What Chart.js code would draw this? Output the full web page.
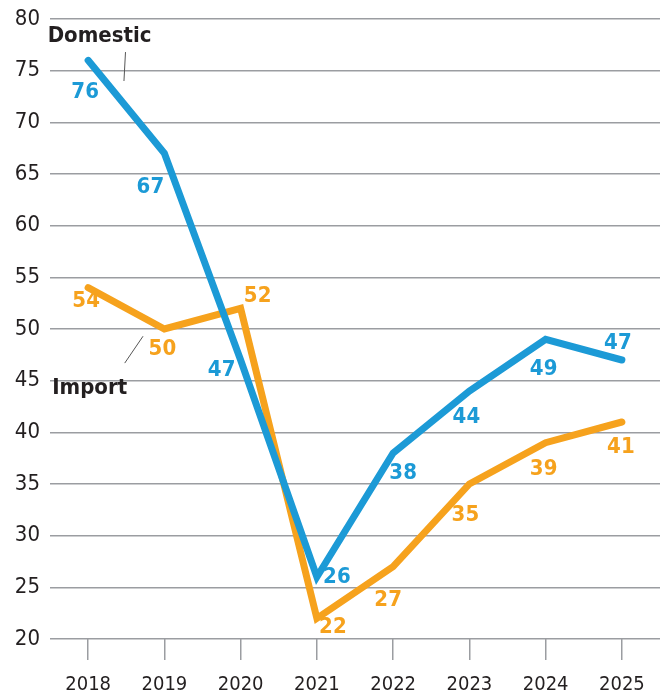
<!DOCTYPE html><html lang="en">
<head>
  <meta charset="UTF-8">
  <title>Domestic vs Import</title>
  <script src="https://cdn.jsdelivr.net/npm/chart.js"></script>
  <style>
    html, body {
      margin: 0;
      padding: 0;
      background: #fff;
    }
    #wrap {
      width: 660px;
      height: 694px;
    }
  </style>
</head>
<body>
  <div id="wrap">
    <canvas id="chart"></canvas>
  </div>
  <script>
    const years = ["2018", "2019", "2020", "2021", "2022", "2023", "2024", "2025"];
    const domestic = [76, 67, 47, 26, 38, 44, 49, 47];
    const imports = [54, 50, 52, 22, 27, 35, 39, 41];
    const yTicks = [20, 25, 30, 35, 40, 45, 50, 55, 60, 65, 70, 75, 80];

    // where each value label sits, relative to its point (px)
    const domesticLabelShift = [[-3, 32], [-14, 34], [-19, 10], [20, 0], [10, 20], [-3, 26], [-2, 30], [-4, -17]];
    const importLabelShift = [[-2, 14], [-2, 20], [17, -12], [16, 9], [-5, 34], [-4, 31], [-2, 27], [-1, 25]];

    const BLUE = "#1c9ad6";
    const ORANGE = "#f6a21d";
    const GRID = "#9b9da1";
    const FONT = "'Liberation Sans Narrow', 'DejaVu Sans Condensed', Roboto, sans-serif";

    const labelPlugin = {
      id: "valueLabels",
      afterDatasetsDraw(chart) {
        const ctx = chart.ctx;
        const shifts = [domesticLabelShift, importLabelShift];
        const colors = [BLUE, ORANGE];
        ctx.save();
        ctx.font = "bold 22px " + FONT;
        ctx.textAlign = "center";
        ctx.textBaseline = "middle";
        chart.data.datasets.forEach((ds, i) => {
          const meta = chart.getDatasetMeta(i);
          meta.data.forEach((pt, j) => {
            ctx.fillStyle = colors[i];
            ctx.fillText(String(ds.data[j]), pt.x + shifts[i][j][0], pt.y + shifts[i][j][1]);
          });
        });

        // series names with leader lines
        const xs = chart.scales.x, ys = chart.scales.y;
        ctx.fillStyle = "#231f20";
        ctx.font = "bold 22px " + FONT;
        ctx.fillText("Domestic", xs.getPixelForValue(0.15), ys.getPixelForValue(78.3));
        ctx.fillText("Import", xs.getPixelForValue(0.02), ys.getPixelForValue(44.3));
        ctx.strokeStyle = "#555";
        ctx.lineWidth = 1;
        ctx.beginPath();
        ctx.moveTo(xs.getPixelForValue(0.49), ys.getPixelForValue(76.8));
        ctx.lineTo(xs.getPixelForValue(0.47), ys.getPixelForValue(74.0));
        ctx.moveTo(xs.getPixelForValue(0.48), ys.getPixelForValue(46.7));
        ctx.lineTo(xs.getPixelForValue(0.72), ys.getPixelForValue(49.3));
        ctx.stroke();
        ctx.restore();
      }
    };

    new Chart(document.getElementById("chart"), {
      type: "line",
      data: {
        labels: years,
        datasets: [
          {
            label: "Domestic",
            data: domestic,
            borderColor: BLUE,
            borderWidth: 7,
            borderCapStyle: "round",
            borderJoinStyle: "miter",
            pointRadius: 0,
            tension: 0
          },
          {
            label: "Import",
            data: imports,
            borderColor: ORANGE,
            borderWidth: 7,
            borderCapStyle: "round",
            borderJoinStyle: "miter",
            pointRadius: 0,
            tension: 0
          }
        ]
      },
      options: {
        responsive: true,
        maintainAspectRatio: false,
        animation: false,
        layout: {
          padding: { top: 19, right: 0, left: 0, bottom: 0 }
        },
        plugins: {
          legend: { display: false },
          tooltip: { enabled: false }
        },
        scales: {
          x: {
            offset: true,
            border: { display: false },
            grid: {
              offset: false,
              drawOnChartArea: false,
              drawTicks: true,
              tickLength: 21,
              color: GRID,
              lineWidth: 1.5
            },
            ticks: {
              color: "#231f20",
              font: { family: FONT, size: 20 },
              padding: 13,
              maxRotation: 0
            },
            afterFit: (scale) => {
              scale.height = 55;
            }
          },
          y: {
            min: 20,
            max: 80,
            afterBuildTicks: (scale) => {
              scale.ticks = yTicks.map(v => ({ value: v }));
            },
            afterFit: (scale) => {
              scale.width = 50;
              scale.paddingTop = 0;
              scale.paddingBottom = 0;
            },
            border: { display: false },
            grid: {
              color: GRID,
              lineWidth: 1.5,
              drawTicks: false
            },
            ticks: {
              color: "#231f20",
              font: { family: FONT, size: 22, lineHeight: 0.8 },
              padding: 10
            }
          }
        }
      },
      plugins: [labelPlugin]
    });
  </script>
</body>
</html>
